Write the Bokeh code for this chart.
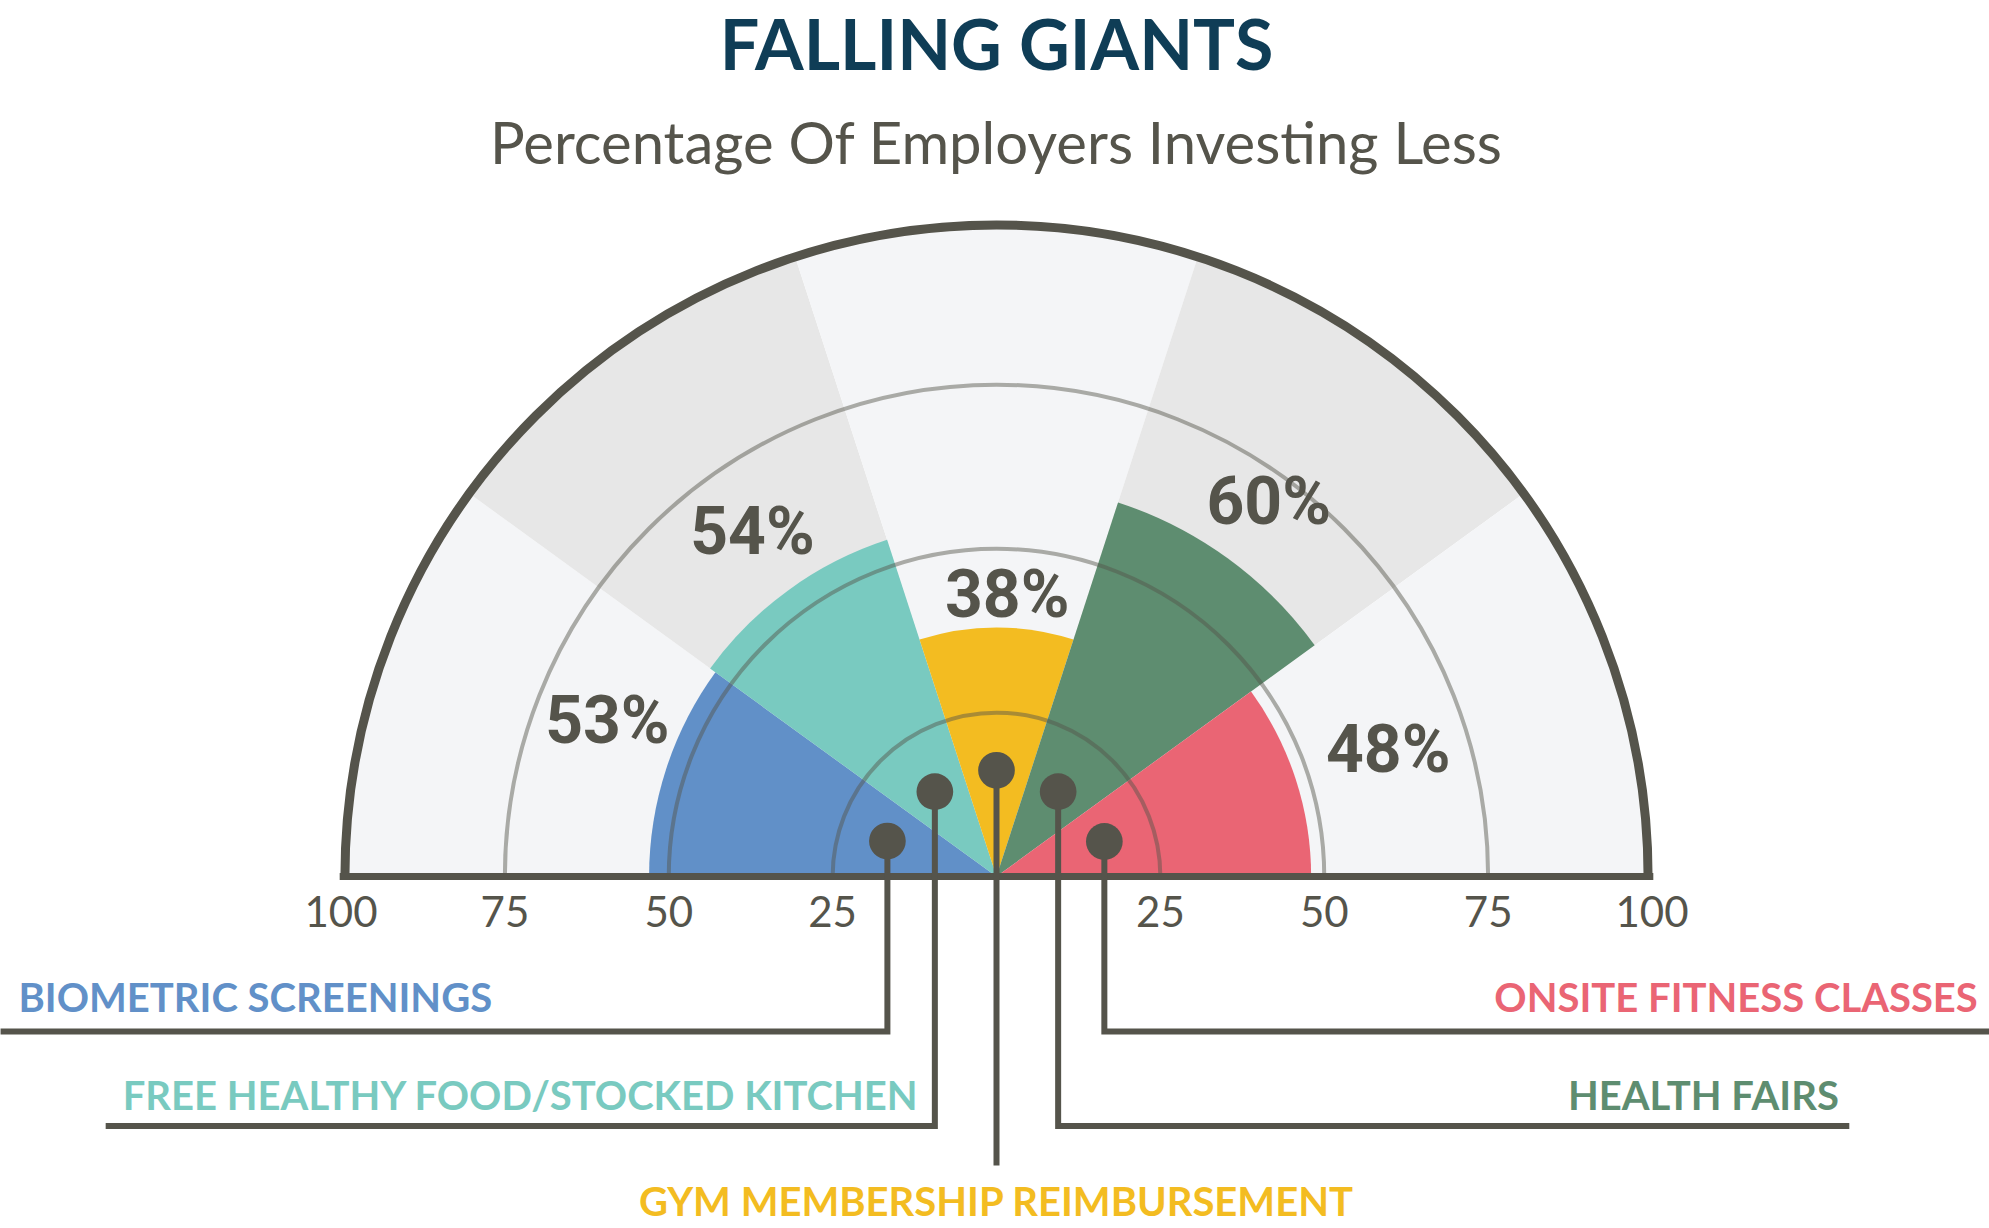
import math
from bokeh.plotting import figure
from bokeh.models import Range1d, ColumnDataSource
from bokeh.core.properties import value
from bokeh.embed import file_html
from bokeh.resources import INLINE

# ---------------- data ----------------
title = "FALLING GIANTS"
subtitle = "Percentage Of Employers Investing Less"
categories = [
    "BIOMETRIC SCREENINGS",
    "FREE HEALTHY FOOD/STOCKED KITCHEN",
    "GYM MEMBERSHIP REIMBURSEMENT",
    "HEALTH FAIRS",
    "ONSITE FITNESS CLASSES",
]
percent = [53, 54, 38, 60, 48]
tick_values = [25, 50, 75, 100]

# ---------------- style / layout ----------------
colors = ["#6190C8", "#79CAC0", "#F3BC21", "#5E8D70", "#EA6574"]
BG = ["#F4F5F7", "#E7E7E7"]
DARK = "#55544B"
NAVY = "#0F3D56"

S = 6.555            # pixels per percent unit
W, H = 1989, 1228
CX, CY = 996, 876    # centre of the gauge in figure pixels
R_OUT = 99.4
BASE_SHIFT = 0.39    # baseline correction (in em) for rendered text


def yoff(size):
    return -round(BASE_SHIFT * size)


p = figure(width=W, height=H, output_backend="svg", toolbar_location=None,
           x_range=Range1d(-CX / S, (W - CX) / S),
           y_range=Range1d(-(H - CY) / S, CY / S),
           x_axis_type=None, y_axis_type=None, min_border=0)
p.grid.visible = False
p.outline_line_color = None
p.background_fill_color = "white"
p.border_fill_color = "white"

n = len(categories)
span = 180.0 / n
starts = [math.radians(180 - span * (i + 1)) for i in range(n)]
ends = [math.radians(180 - span * i) for i in range(n)]
mids = [math.radians(180 - span * (i + 0.5)) for i in range(n)]

# background sectors
p.wedge(x=[0] * n, y=[0] * n, radius=[R_OUT] * n, start_angle=starts, end_angle=ends,
        fill_color=[BG[i % 2] for i in range(n)], line_color=None)

# data sectors
p.wedge(x=[0] * n, y=[0] * n, radius=percent, start_angle=starts, end_angle=ends,
        fill_color=colors, line_color=None)

# grid arcs
grid_r = tick_values[:-1]
p.arc(x=[0] * len(grid_r), y=[0] * len(grid_r), radius=grid_r,
      start_angle=0, end_angle=math.pi, line_color=DARK, line_alpha=0.47, line_width=4)

# outer arc and baseline
p.arc(x=0, y=0, radius=R_OUT, start_angle=0, end_angle=math.pi,
      line_color=DARK, line_width=9)
p.segment(x0=-100.2, y0=0, x1=100.2, y1=0, line_color=DARK, line_width=7, line_cap="butt")

# tick labels
tx = [-v for v in reversed(tick_values)] + tick_values
tt = [str(v) for v in reversed(tick_values)] + [str(v) for v in tick_values]
p.text(x=tx, y=[-7.78] * len(tx), text=tt, text_align="center", text_baseline="alphabetic",
       y_offset=yoff(42), text_font=value("Lato"), text_font_size="42px", text_color=DARK)

# percentage labels (positions = cap-centre in polar coords)
PCT_SIZE = 66
LABEL_POS = [(63.8, 158.5), (64.1, 125.5), (42.6, 87.8), (70.3, 53.8), (62.7, 17.6)]
lx = [r * math.cos(math.radians(a)) for r, a in LABEL_POS]
ly = [r * math.sin(math.radians(a)) for r, a in LABEL_POS]
p.text(x=lx, y=ly, text=[f"{v}%" for v in percent], text_align="center",
       text_baseline="alphabetic", y_offset=round(0.355 * PCT_SIZE) + yoff(PCT_SIZE),
       text_font=value("Roboto"), text_font_style="bold",
       text_font_size=f"{PCT_SIZE}px", text_color=DARK)

# leaders (dot, stem, horizontal line)
DOT_R = [17.5, 16.0, 16.2, 16.0, 17.3]
dx = [DOT_R[i] * math.cos(mids[i]) for i in range(n)]
dy = [DOT_R[i] * math.sin(mids[i]) for i in range(n)]
LEAD_Y = [-23.65, -38.06, -44.09, -38.06, -23.65]
LEAD_END = [-152.0, -135.9, None, 130.1, 152.0]
xs, ys = [], []
for i in range(n):
    if LEAD_END[i] is None:
        xs.append([dx[i], dx[i]])
        ys.append([dy[i], LEAD_Y[i]])
    else:
        xs.append([dx[i], dx[i], LEAD_END[i]])
        ys.append([dy[i], LEAD_Y[i], LEAD_Y[i]])
p.multi_line(xs=xs, ys=ys, line_color=DARK, line_width=6, line_join="miter", line_cap="butt")
p.circle(x=dx, y=dy, radius=2.8, fill_color=DARK, line_color=None)

# category labels
CAT_SIZE = 40
CAT_X = [-149.2, -133.3, 0.0, 128.5, 149.7]
CAT_Y = [-20.85, -35.7, -52.0, -35.7, -20.85]
CAT_ALIGN = ["left", "left", "center", "right", "right"]
src = ColumnDataSource(dict(x=CAT_X, y=CAT_Y, t=categories, c=colors, a=CAT_ALIGN))
p.text(x="x", y="y", text="t", text_color="c", text_align="a", source=src,
       text_baseline="alphabetic", y_offset=yoff(CAT_SIZE), text_font=value("Lato"),
       text_font_style="bold", text_font_size=f"{CAT_SIZE}px")

# title and subtitle
p.text(x=[0], y=[123.1], text=[title], text_align="center", text_baseline="alphabetic",
       y_offset=yoff(70), text_font=value("Lato"), text_font_style="bold",
       text_font_size="70px", text_color=NAVY)
p.text(x=[0], y=[108.6], text=[subtitle], text_align="center", text_baseline="alphabetic",
       y_offset=yoff(58), text_font=value("Lato"), text_font_size="58px", text_color=DARK)

open("out.html", "w").write(file_html(p, INLINE))
